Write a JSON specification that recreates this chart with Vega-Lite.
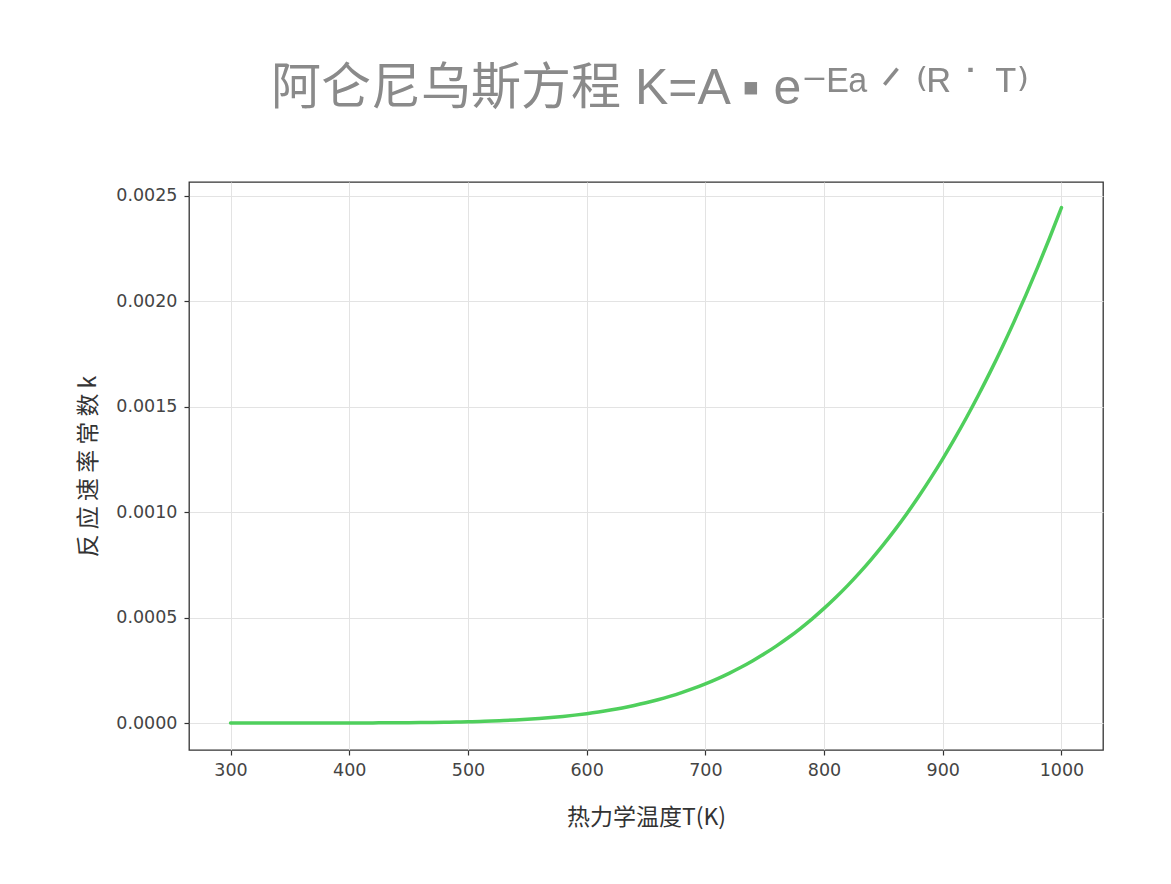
{
  "$schema": "https://vega.github.io/schema/vega-lite/v6.json",
  "description": "Arrhenius equation: rate constant k against absolute temperature T.",
  "autosize": {"type": "none"},
  "padding": {"left": 189, "top": 182, "right": 68, "bottom": 134},
  "width": 914,
  "height": 568,
  "background": "white",
  "title": {
    "text": "阿仑尼乌斯方程 K=A ▪ e⁻ᴱᵃ ᐟ ⁽ᴿ ˙ ᵀ⁾",
    "font": "Liberation Sans, DejaVu Sans, Noto Sans CJK SC",
    "fontSize": 50,
    "fontWeight": "normal",
    "color": "#8a8a8a",
    "anchor": "middle",
    "dx": 4,
    "offset": 68
  },
  "config": {
    "view": {"stroke": "#333333", "strokeWidth": 1.3},
    "axis": {
      "grid": true,
      "gridColor": "#e3e3e3",
      "gridWidth": 1,
      "domain": false,
      "tickColor": "#333333",
      "tickSize": 5,
      "tickWidth": 1.2,
      "labelFont": "DejaVu Sans",
      "labelFontSize": 17.5,
      "labelColor": "#444444",
      "titleFont": "Noto Sans CJK SC",
      "titleFontSize": 23,
      "titleFontWeight": "normal",
      "titleColor": "#333333"
    }
  },
  "data": {
    "values": [
      {"T": 300, "k": 1.968e-9}, {"T": 310, "k": 3.757e-9}, {"T": 320, "k": 6.887e-9},
      {"T": 330, "k": 1.2173e-8}, {"T": 340, "k": 2.080e-8}, {"T": 350, "k": 3.449e-8},
      {"T": 360, "k": 5.558e-8}, {"T": 370, "k": 8.731e-8}, {"T": 380, "k": 1.339e-7},
      {"T": 390, "k": 2.009e-7}, {"T": 400, "k": 2.954e-7}, {"T": 410, "k": 4.263e-7},
      {"T": 420, "k": 6.044e-7}, {"T": 430, "k": 8.433e-7}, {"T": 440, "k": 1.1589e-6},
      {"T": 450, "k": 1.5702e-6}, {"T": 460, "k": 2.0996e-6}, {"T": 470, "k": 2.773e-6},
      {"T": 480, "k": 3.620e-6}, {"T": 490, "k": 4.675e-6}, {"T": 500, "k": 5.975e-6},
      {"T": 510, "k": 7.564e-6}, {"T": 520, "k": 9.490e-6}, {"T": 530, "k": 1.1803e-5},
      {"T": 540, "k": 1.4566e-5}, {"T": 550, "k": 1.7833e-5}, {"T": 560, "k": 2.168e-5},
      {"T": 570, "k": 2.617e-5}, {"T": 580, "k": 3.139e-5}, {"T": 590, "k": 3.743e-5},
      {"T": 600, "k": 4.436e-5}, {"T": 610, "k": 5.228e-5}, {"T": 620, "k": 6.129e-5},
      {"T": 630, "k": 7.149e-5}, {"T": 640, "k": 8.300e-5}, {"T": 650, "k": 9.590e-5},
      {"T": 660, "k": 1.1033e-4}, {"T": 670, "k": 1.2641e-4}, {"T": 680, "k": 1.4425e-4},
      {"T": 690, "k": 1.6397e-4}, {"T": 700, "k": 1.8571e-4}, {"T": 710, "k": 2.0960e-4},
      {"T": 720, "k": 2.3576e-4}, {"T": 730, "k": 2.6434e-4}, {"T": 740, "k": 2.9544e-4},
      {"T": 750, "k": 3.2929e-4}, {"T": 760, "k": 3.6594e-4}, {"T": 770, "k": 4.0551e-4},
      {"T": 780, "k": 4.4819e-4}, {"T": 790, "k": 4.9424e-4}, {"T": 800, "k": 5.4357e-4},
      {"T": 810, "k": 5.9637e-4}, {"T": 820, "k": 6.5291e-4}, {"T": 830, "k": 7.1327e-4},
      {"T": 840, "k": 7.7747e-4}, {"T": 850, "k": 8.4586e-4}, {"T": 860, "k": 9.1840e-4},
      {"T": 870, "k": 9.9524e-4}, {"T": 880, "k": 1.07654e-3}, {"T": 890, "k": 1.16256e-3},
      {"T": 900, "k": 1.2530e-3}, {"T": 910, "k": 1.3487e-3}, {"T": 920, "k": 1.4491e-3},
      {"T": 930, "k": 1.5547e-3}, {"T": 940, "k": 1.6653e-3}, {"T": 950, "k": 1.7813e-3},
      {"T": 960, "k": 1.9027e-3}, {"T": 970, "k": 2.0296e-3}, {"T": 980, "k": 2.1620e-3},
      {"T": 990, "k": 2.3003e-3}, {"T": 1000, "k": 2.4443e-3}
    ]
  },
  "mark": {"type": "line", "color": "#4fcf5c", "strokeWidth": 3.5, "strokeCap": "round", "interpolate": "monotone"},
  "encoding": {
    "x": {
      "field": "T",
      "type": "quantitative",
      "title": "热力学温度T(K)",
      "scale": {"domain": [265, 1035], "nice": false, "zero": false},
      "axis": {"values": [300, 400, 500, 600, 700, 800, 900, 1000], "format": "d", "labelPadding": 6, "titlePadding": 28}
    },
    "y": {
      "field": "k",
      "type": "quantitative",
      "title": "反 应 速 率 常 数 k",
      "scale": {"domain": [-0.000128, 0.002566], "nice": false, "zero": false},
      "axis": {"values": [0, 0.0005, 0.001, 0.0015, 0.002, 0.0025], "format": ".4f", "labelPadding": 7, "titlePadding": 15}
    }
  }
}
